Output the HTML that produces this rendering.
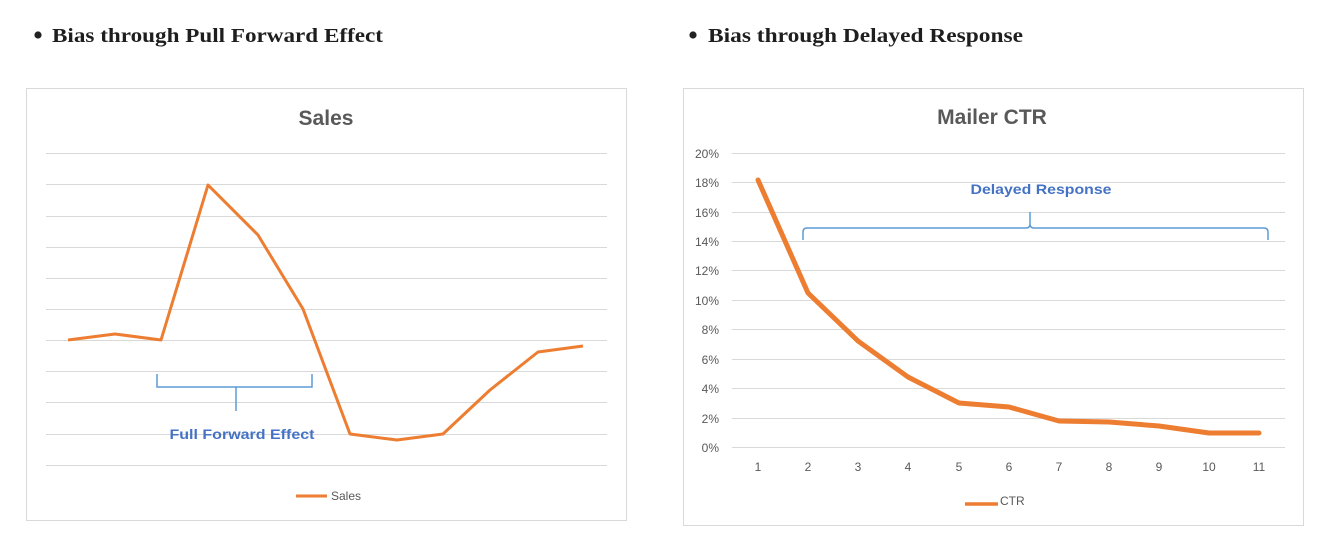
<!DOCTYPE html>
<html><head><meta charset="utf-8"><style>
html,body{margin:0;padding:0;background:#fff;}
svg{display:block;}
</style></head><body>
<svg width="1331" height="548" viewBox="0 0 1331 548" xmlns="http://www.w3.org/2000/svg">
<rect width="1331" height="548" fill="#fff"/>
<!-- headings -->
<circle cx="38" cy="35" r="3.6" fill="#222"/>
<text x="52" y="42" font-family="Liberation Serif, serif" font-weight="bold" font-size="20" fill="#1e1e1e" textLength="331" lengthAdjust="spacingAndGlyphs">Bias through Pull Forward Effect</text>
<circle cx="693" cy="35" r="3.6" fill="#222"/>
<text x="708" y="42" font-family="Liberation Serif, serif" font-weight="bold" font-size="20" fill="#1e1e1e" textLength="315" lengthAdjust="spacingAndGlyphs">Bias through Delayed Response</text>

<!-- LEFT CHART -->
<rect x="26.5" y="88.5" width="600" height="432" fill="#fff" stroke="#d9d9d9"/>
<text x="326" y="125" text-anchor="middle" font-family="Liberation Sans, sans-serif" font-weight="bold" font-size="21" fill="#595959">Sales</text>
<g stroke="#d9d9d9" stroke-width="1">
<line x1="46" x2="607" y1="153.5" y2="153.5"/><line x1="46" x2="607" y1="184.5" y2="184.5"/>
<line x1="46" x2="607" y1="216.5" y2="216.5"/><line x1="46" x2="607" y1="247.5" y2="247.5"/>
<line x1="46" x2="607" y1="278.5" y2="278.5"/><line x1="46" x2="607" y1="309.5" y2="309.5"/>
<line x1="46" x2="607" y1="340.5" y2="340.5"/><line x1="46" x2="607" y1="371.5" y2="371.5"/>
<line x1="46" x2="607" y1="402.5" y2="402.5"/><line x1="46" x2="607" y1="434.5" y2="434.5"/>
<line x1="46" x2="607" y1="465.5" y2="465.5"/>
</g>
<polyline fill="none" stroke="#ed7d31" stroke-width="3" stroke-linejoin="round" points="68,340 115,334 161,340 208,185 258,235 303,309 350,434 397,440 443,434 490,390 538,352 583,346"/>
<path d="M157,374 V387 H312 V374 M236,387 V411" fill="none" stroke="#5b9bd5" stroke-width="1.5"/>
<text x="242" y="439" text-anchor="middle" font-family="Liberation Sans, sans-serif" font-weight="bold" font-size="14" fill="#4472c4" textLength="145" lengthAdjust="spacingAndGlyphs">Full Forward Effect</text>
<line x1="296" x2="327" y1="496" y2="496" stroke="#ed7d31" stroke-width="3"/>
<text x="331" y="500" font-family="Liberation Sans, sans-serif" font-size="12" fill="#595959">Sales</text>

<!-- RIGHT CHART -->
<rect x="683.5" y="88.5" width="620" height="437" fill="#fff" stroke="#d9d9d9"/>
<text x="992" y="124" text-anchor="middle" font-family="Liberation Sans, sans-serif" font-weight="bold" font-size="21" fill="#595959">Mailer CTR</text>
<g stroke="#d9d9d9" stroke-width="1">
<line x1="732" x2="1285" y1="153.5" y2="153.5"/><line x1="732" x2="1285" y1="182.5" y2="182.5"/>
<line x1="732" x2="1285" y1="212.5" y2="212.5"/><line x1="732" x2="1285" y1="241.5" y2="241.5"/>
<line x1="732" x2="1285" y1="270.5" y2="270.5"/><line x1="732" x2="1285" y1="300.5" y2="300.5"/>
<line x1="732" x2="1285" y1="329.5" y2="329.5"/><line x1="732" x2="1285" y1="359.5" y2="359.5"/>
<line x1="732" x2="1285" y1="388.5" y2="388.5"/><line x1="732" x2="1285" y1="418.5" y2="418.5"/>
<line x1="732" x2="1285" y1="447.5" y2="447.5"/>
</g>
<g font-family="Liberation Sans, sans-serif" font-size="12" fill="#595959" text-anchor="end">
<text x="719" y="158">20%</text><text x="719" y="187">18%</text><text x="719" y="217">16%</text>
<text x="719" y="246">14%</text><text x="719" y="275">12%</text><text x="719" y="305">10%</text>
<text x="719" y="334">8%</text><text x="719" y="364">6%</text><text x="719" y="393">4%</text>
<text x="719" y="423">2%</text><text x="719" y="452">0%</text>
</g>
<g font-family="Liberation Sans, sans-serif" font-size="12" fill="#595959" text-anchor="middle">
<text x="758" y="471">1</text><text x="808" y="471">2</text><text x="858" y="471">3</text>
<text x="908" y="471">4</text><text x="959" y="471">5</text><text x="1009" y="471">6</text>
<text x="1059" y="471">7</text><text x="1109" y="471">8</text><text x="1159" y="471">9</text>
<text x="1209" y="471">10</text><text x="1259" y="471">11</text>
</g>
<polyline fill="none" stroke="#ed7d31" stroke-width="5" stroke-linejoin="round" stroke-linecap="round" points="758,180 808,293 858,341 908,377 959,403 1009,407 1059,421 1109,422 1159,426 1209,433 1259,433"/>
<path d="M803,240 V232 Q803,228 807,228 H1026 Q1030,228 1030,224 V212 M1030,224 Q1030,228 1034,228 H1264 Q1268,228 1268,232 V240" fill="none" stroke="#5b9bd5" stroke-width="1.5"/>
<text x="1041" y="194" text-anchor="middle" font-family="Liberation Sans, sans-serif" font-weight="bold" font-size="14" fill="#4472c4" textLength="141" lengthAdjust="spacingAndGlyphs">Delayed Response</text>
<line x1="965" x2="998" y1="504" y2="504" stroke="#ed7d31" stroke-width="3.5"/>
<text x="1000" y="505" font-family="Liberation Sans, sans-serif" font-size="12" fill="#595959">CTR</text>
</svg>
</body></html>
